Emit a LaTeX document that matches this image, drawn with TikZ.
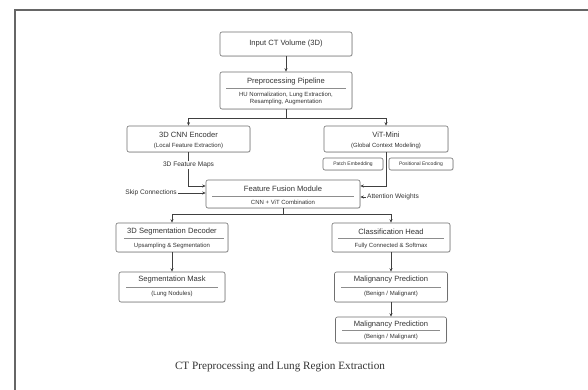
\documentclass[tikz,border=0pt]{standalone}
\usepackage{fontspec}
\setmainfont{Liberation Serif}
\newfontfamily\boxfont{Liberation Sans}
\usetikzlibrary{arrows.meta,shadows}
\definecolor{edge}{HTML}{707070}
\definecolor{txt}{HTML}{333333}
\begin{document}
\begin{tikzpicture}[x=1pt,y=-1pt,
  box/.style={draw=edge, line width=0.6pt, rounded corners=2pt, fill=white,
    drop shadow={shadow xshift=0.7pt, shadow yshift=-0.7pt, opacity=0.2},
    inner sep=0pt},
  ttl/.style={font=\boxfont\fontsize{7.6}{8.5}\selectfont, text=txt, inner sep=0pt},
  sub/.style={font=\boxfont\fontsize{6}{7}\selectfont, text=txt, inner sep=0pt, align=center},
  small/.style={font=\boxfont\fontsize{5}{6}\selectfont, text=txt, inner sep=0pt},
  lab/.style={font=\boxfont\fontsize{6.6}{7.5}\selectfont, text=txt, inner sep=1pt},
  div/.style={draw=edge!80, line width=0.4pt},
  conn/.style={draw=black!75, line width=0.6pt},
  arr/.style={conn, -{Stealth[length=3.5pt,width=3pt]}},
  frame/.style={draw=black!60, line width=1.6pt}
]
\useasboundingbox (0,0) rectangle (588,390);
\fill[white] (0,0) rectangle (588,390);
% page frame
\coordinate (f1) at (588,10);
\coordinate (f2) at (15,10);
\coordinate (f3) at (15,390);
\draw[frame] (f1) -- (f2) -- (f3);

% Input
\node[box, minimum width=132pt, minimum height=24pt] (in) at (286,44) {};
\node[ttl] (inT) at (in) {Input CT Volume (3D)};

% Preprocessing
\node[box, minimum width=132pt, minimum height=37pt] (pre) at (286,90.5) {};
\node[ttl] (preT) at (286,81.5) {Preprocessing Pipeline};
\draw[div] (226,88) -- (346,88);
\node[sub] (preS) at (286,98.5) {HU Normalization, Lung Extraction,\\Resampling, Augmentation};

\draw[arr] (in.south) -- (pre.north);

% CNN encoder
\node[box, minimum width=123pt, minimum height=26pt] (cnn) at (188.5,139) {};
\node[ttl] (cnnT) at (188.5,135) {3D CNN Encoder};
\node[sub] (cnnS) at (188.5,145.5) {(Local Feature Extraction)};

% ViT
\node[box, minimum width=124pt, minimum height=26pt] (vit) at (386,139) {};
\node[ttl] (vitT) at (386,135) {ViT-Mini};
\node[sub] (vitS) at (386,145.5) {(Global Context Modeling)};

\coordinate (split1) at (286,118);
\draw[conn] (pre.south) -- (split1);
\draw[arr] (split1) -- (split1 -| cnn.north) -- (cnn.north);
\draw[arr] (split1) -- (split1 -| vit.north) -- (vit.north);

\node[box, minimum width=60pt, minimum height=12pt] (patch) at (353,164) {};
\node[small] at (patch) {Patch Embedding};
\node[box, minimum width=64pt, minimum height=12pt] (pos) at (421,164) {};
\node[small] at (pos) {Positional Encoding};

% Fusion
\node[box, minimum width=154pt, minimum height=28pt] (fus) at (283,194) {};
\node[ttl] (fusT) at (283,188.5) {Feature Fusion Module};
\draw[div] (212,196) -- (354,196);
\node[sub] (fusS) at (283,202) {CNN + ViT Combination};

% side inputs
\node[lab, anchor=east] (skip) at (178,193) {Skip Connections};
\node[lab, anchor=west] (att) at (366,197) {Attention Weights};
\draw[arr] (skip.east) -- (skip.east -| fus.west);
\draw[arr] (att.west) -- (att.west -| fus.east);

\coordinate (cnnTurn) at (188.5,186);
\draw[arr] (cnn.south) -- (cnnTurn) -- (cnnTurn -| fus.west);
\node[lab, fill=white] (fmaps) at (188.5,165) {3D Feature Maps};

\coordinate (vitTurn) at (386,186);
\draw[arr] (vit.south) -- (vitTurn) -- (vitTurn -| fus.east);

% Seg decoder / Classification head
\node[box, minimum width=112pt, minimum height=29pt] (seg) at (172,237.5) {};
\node[ttl] at (172,231.5) {3D Segmentation Decoder};
\draw[div] (124,238.5) -- (224,238.5);
\node[sub] at (172,245.5) {Upsampling \& Segmentation};

\node[box, minimum width=118pt, minimum height=29pt] (cls) at (391,237.5) {};
\node[ttl] at (391,231.5) {Classification Head};
\draw[div] (338,238.5) -- (444,238.5);
\node[sub] at (391,245.5) {Fully Connected \& Softmax};

\coordinate (split) at (283,214);
\draw[conn] (fus.south) -- (split);
\draw[arr] (split) -- (split -| seg.north) -- (seg.north);
\draw[arr] (split) -- (split -| cls.north) -- (cls.north);

% Outputs
\node[box, minimum width=106pt, minimum height=30pt] (mask) at (172,287) {};
\node[ttl] at (172,280) {Segmentation Mask};
\draw[div] (126,287) -- (218,287);
\node[sub] at (172,293.5) {(Lung Nodules)};

\node[box, minimum width=113pt, minimum height=30pt] (mal1) at (391,287) {};
\node[ttl] at (391,280) {Malignancy Prediction};
\draw[div] (341,287) -- (441,287);
\node[sub] at (391,293.5) {(Benign / Malignant)};

\node[box, minimum width=111pt, minimum height=26pt] (mal2) at (391,330) {};
\node[ttl] at (391,324.5) {Malignancy Prediction};
\draw[div] (342,330.5) -- (440,330.5);
\node[sub] at (391,336.5) {(Benign / Malignant)};

\draw[arr] (seg.south) -- (mask.north);
\draw[arr] (cls.south) -- (mal1.north);
\draw[arr] (mal1.south) -- (mal2.north);

% caption
\node[font=\fontsize{11.2}{13}\selectfont, text=txt, inner sep=0pt] (cap) at (280,367) {CT Preprocessing and Lung Region Extraction};
\end{tikzpicture}
\end{document}
